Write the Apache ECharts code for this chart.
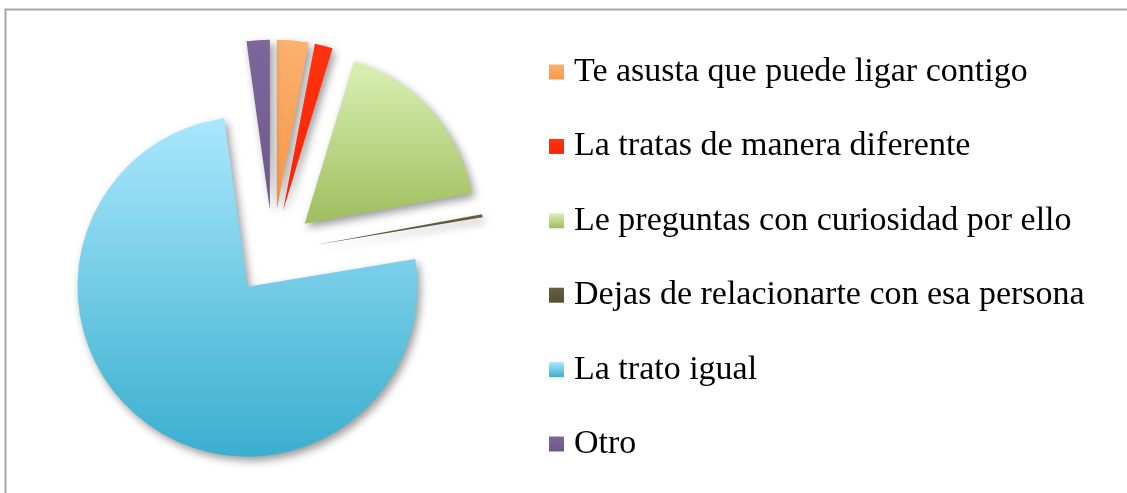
<!DOCTYPE html>
<html>
<head>
<meta charset="utf-8">
<script src="https://cdn.jsdelivr.net/npm/echarts@6/dist/echarts.min.js"></script>
<style>
  html, body { margin: 0; padding: 0; background: #fff; }
  #chart { width: 1127px; height: 493px; }
</style>
</head>
<body>
<div id="chart"></div>
<script>
// Survey answers (percent of respondents), clockwise from 12 o'clock
const categories = [
  'Te asusta que puede ligar contigo',
  'La tratas de manera diferente',
  'Le preguntas con curiosidad por ello',
  'Dejas de relacionarte con esa persona',
  'La trato igual',
  'Otro'
];
const values = [3.0, 1.7, 17.4, 0.3, 75.4, 2.2];

// Top / bottom gradient stops for each slice
const colorsTop = ['#FBB16E', '#FF3310', '#DAF0B4', '#675E40', '#AAE7FD', '#7D679A'];
const colorsBottom = ['#F79646', '#FF2000', '#9FBE5E', '#574E33', '#3AAFCE', '#6F578C'];

function grad(i) {
  return {
    type: 'linear', x: 0, y: 0, x2: 0, y2: 1,
    colorStops: [
      { offset: 0, color: colorsTop[i] },
      { offset: 1, color: colorsBottom[i] }
    ]
  };
}

const chart = echarts.init(document.getElementById('chart'), null, { renderer: 'canvas' });

chart.setOption({
  animation: false,
  backgroundColor: '#ffffff',
  graphic: [
    {
      type: 'polyline',
      shape: { points: [[5.5, 493], [5.5, 9.5], [1127, 9.5]] },
      style: { stroke: '#A6A6A6', lineWidth: 2, fill: null },
      silent: true
    }
  ],
  legend: {
    orient: 'vertical',
    left: 544,
    top: 50,
    itemWidth: 15,
    itemHeight: 15,
    itemGap: 40.4,
    selectedMode: false,
    icon: 'rect',
    textStyle: {
      fontFamily: 'Liberation Serif',
      fontSize: 34,
      lineHeight: 34,
      color: '#000000',
      padding: [0, 0, 0, 5]
    },
    data: categories
  },
  series: [
    {
      type: 'pie',
      center: [272.8, 252.3],
      radius: [0, 170],
      startAngle: 90,
      clockwise: true,
      selectedMode: 'multiple',
      selectedOffset: 42.7,
      avoidLabelOverlap: false,
      label: { show: false },
      labelLine: { show: false },
      emphasis: { disabled: true },
      itemStyle: {
        borderWidth: 0,
        shadowBlur: 8,
        shadowOffsetX: 3,
        shadowOffsetY: 4,
        shadowColor: 'rgba(0,0,0,0.4)'
      },
      data: categories.map((name, i) => ({
        name: name,
        value: values[i],
        selected: true,
        itemStyle: { color: grad(i) }
      }))
    }
  ]
});
</script>
</body>
</html>
